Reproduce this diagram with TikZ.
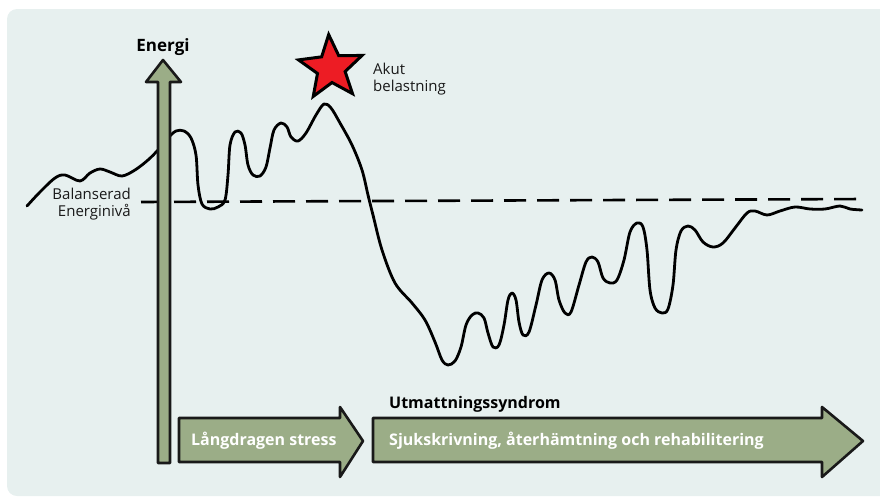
\documentclass[tikz,border=0pt]{standalone}
\usepackage{fontspec}
\setmainfont{Open Sans}
\usetikzlibrary{shapes.geometric}
\definecolor{panel}{RGB}{231,240,239}
\definecolor{sage}{RGB}{155,173,135}
\definecolor{starred}{RGB}{237,28,36}
\tikzset{
  label text/.style={font=\fontsize{15}{17}\selectfont, text=black!90, inner sep=0pt},
  bold text/.style={font=\fontsize{16}{18}\selectfont\bfseries, inner sep=0pt},
  arrow body/.style={fill=sage, draw=black!90, line width=2.6pt, line join=round},
  curve/.style={line width=2.8pt, line cap=round, line join=round},
}
\begin{document}
\begin{tikzpicture}[x=1pt,y=-1pt]
  \useasboundingbox (0,0) rectangle (880,498);
  \fill[panel, rounded corners=10pt] (7,9) rectangle (895,496);
  \coordinate (dl) at (141,202);
  \coordinate (dr) at (865,199);
  \draw[line width=2.6pt, dash pattern=on 22pt off 11pt] (dl) -- (dr);
  \draw[curve] plot[smooth, tension=0.55] coordinates {
    (27,206) (40,192) (55,178) (65,175) (80,181) (90,173) (100,169) (110,172)
    (122,176) (135,170) (148,160) (158,150) (168,138) (176,131) (184,131)
    (191,138) (196,155) (198,185) (202,204) (210,209) (218,207) (225,200)
    (228,175) (230,145) (235,132) (241,133) (245,145) (248,165) (253,175)
    (260,176) (266,167) (270,148) (274,130) (281,123) (287,127) (291,137)
    (298,141) (306,133) (316,115) (324,104) (331,108) (340,123) (352,145)
    (362,170) (368,195) (373,215) (382,250) (395,283) (412,303) (425,320)
    (435,342) (442,360) (448,365) (455,361) (461,347) (466,325) (472,315)
    (478,313) (484,318) (488,333) (493,347) (499,345) (504,325) (508,300)
    (512,293) (516,300) (519,322) (523,335) (529,332) (536,305) (542,280)
    (549,273) (555,280) (559,300) (565,313) (571,312) (579,285) (586,262)
    (592,257) (598,262) (603,278) (610,283) (617,280) (624,260) (630,232)
    (637,223) (643,227) (647,250) (650,290) (655,308) (662,313) (668,309)
    (673,285) (676,250) (681,231) (688,226) (695,230) (703,242) (713,247)
    (723,243) (735,228) (747,213) (755,211) (767,215) (780,211) (795,207)
    (810,209) (825,209) (840,206) (850,209) (862,210)};
  % energiaxel
  \draw[arrow body] (158,463) -- (158,82) -- (146,82) -- (163,60) -- (181,82)
    -- (170,82) -- (170,463) -- cycle;
  \node[bold text, font=\fontsize{17}{20}\selectfont\bfseries, anchor=base] (energi) at (163,51) {Energi};
  \node[star, star points=5, star point ratio=2.3, minimum size=67pt, inner sep=0pt,
    fill=starred, draw=black, line width=3pt, rotate=4] (stjarna) at (331,68) {};
  \node[label text, align=left, anchor=west] (akut) at (373,79) {Akut\\belastning};
  \node[label text, align=right, anchor=east] (balans) at (131,204) {Balanserad\\Energinivå};
  % tidsaxel
  \draw[arrow body] (179,418) -- (340,418) -- (340,407) -- (363,441) -- (340,477)
    -- (340,462) -- (179,462) -- cycle;
  \draw[arrow body] (373,418) -- (822,418) -- (822,407) -- (863,441) -- (822,477)
    -- (822,462) -- (373,462) -- cycle;
  \node[bold text, anchor=base west] (utm) at (389,408) {Utmattningssyndrom};
  \node[bold text, text=white, anchor=base west] (stress) at (191,445) {Långdragen stress};
  \node[bold text, text=white, anchor=base west] (sjuk) at (389,445) {Sjukskrivning, återhämtning och rehabilitering};
\end{tikzpicture}
\end{document}
